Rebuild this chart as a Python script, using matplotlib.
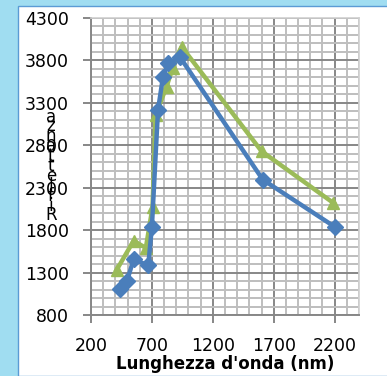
import numpy as np
import matplotlib.pyplot as plt
from matplotlib.patches import Rectangle
from matplotlib.ticker import MultipleLocator

# wavelengths (nm) and reflectance values
x_blue = [440, 495, 550, 670, 700, 750, 790, 835, 930, 1610, 2200]
y_blue = [1110, 1200, 1455, 1385, 1840, 3215, 3600, 3770, 3840, 2395, 1840]

x_green = [410, 550, 650, 705, 730, 820, 870, 945, 1600, 2190]
y_green = [1330, 1675, 1590, 2070, 3160, 3490, 3710, 3960, 2730, 2120]

xticks = [200, 700, 1200, 1700, 2200]
yticks = [800, 1300, 1800, 2300, 2800, 3300, 3800, 4300]
ylabel = "Riflettanza"
xlabel = "Lunghezza d'onda (nm)"

W, H = 387, 376
fig = plt.figure(figsize=(W / 100, H / 100), dpi=100, facecolor="#A0DDF1")

# white panel with blue edge
fig.patches.append(Rectangle((17.5 / W, 0), 1, 1 - 5.5 / H, transform=fig.transFigure,
                             facecolor="white", edgecolor="#5B9BD5", lw=1.0, zorder=-5))

ax = fig.add_axes([91 / W, 1 - 315 / H, 268 / W, 297 / H])
ax.set_zorder(2)
ax.set_xlim(200, 2400)
ax.set_ylim(800, 4300)

ax.xaxis.set_minor_locator(MultipleLocator(100))
ax.yaxis.set_minor_locator(MultipleLocator(100))
ax.set_xticks(xticks)
ax.set_yticks(yticks)
ax.grid(which="minor", color="#BEBEBE", lw=1.4, zorder=0)
ax.grid(which="major", color="#878787", lw=1.4, zorder=0)
ax.set_axisbelow(True)

for s in ["top", "right"]:
    ax.spines[s].set_color("#D0D0D0")
    ax.spines[s].set_linewidth(1.2)
for s in ["left", "bottom"]:
    ax.spines[s].set_color("#878787")
    ax.spines[s].set_linewidth(1.4)

ax.tick_params(which="major", direction="out", length=6, width=1.4, color="#878787",
               labelsize=12.5, pad=10)
ax.tick_params(which="minor", length=0)

ax.plot(x_green, y_green, color="#9BBB59", lw=3.2, marker="^", ms=9, zorder=3)
ax.plot(x_blue, y_blue, color="#4A7EBB", lw=3.2, marker="D", ms=8, zorder=4)

ax.set_xlabel(xlabel, fontsize=12, fontweight="bold", labelpad=0)

fig.text(51 / W, 1 - 166 / H, "\n".join(reversed(ylabel)), ha="center", va="center",
         fontsize=12, linespacing=0.42, zorder=3)

fig.savefig("out.png", dpi=100, facecolor=fig.get_facecolor())
